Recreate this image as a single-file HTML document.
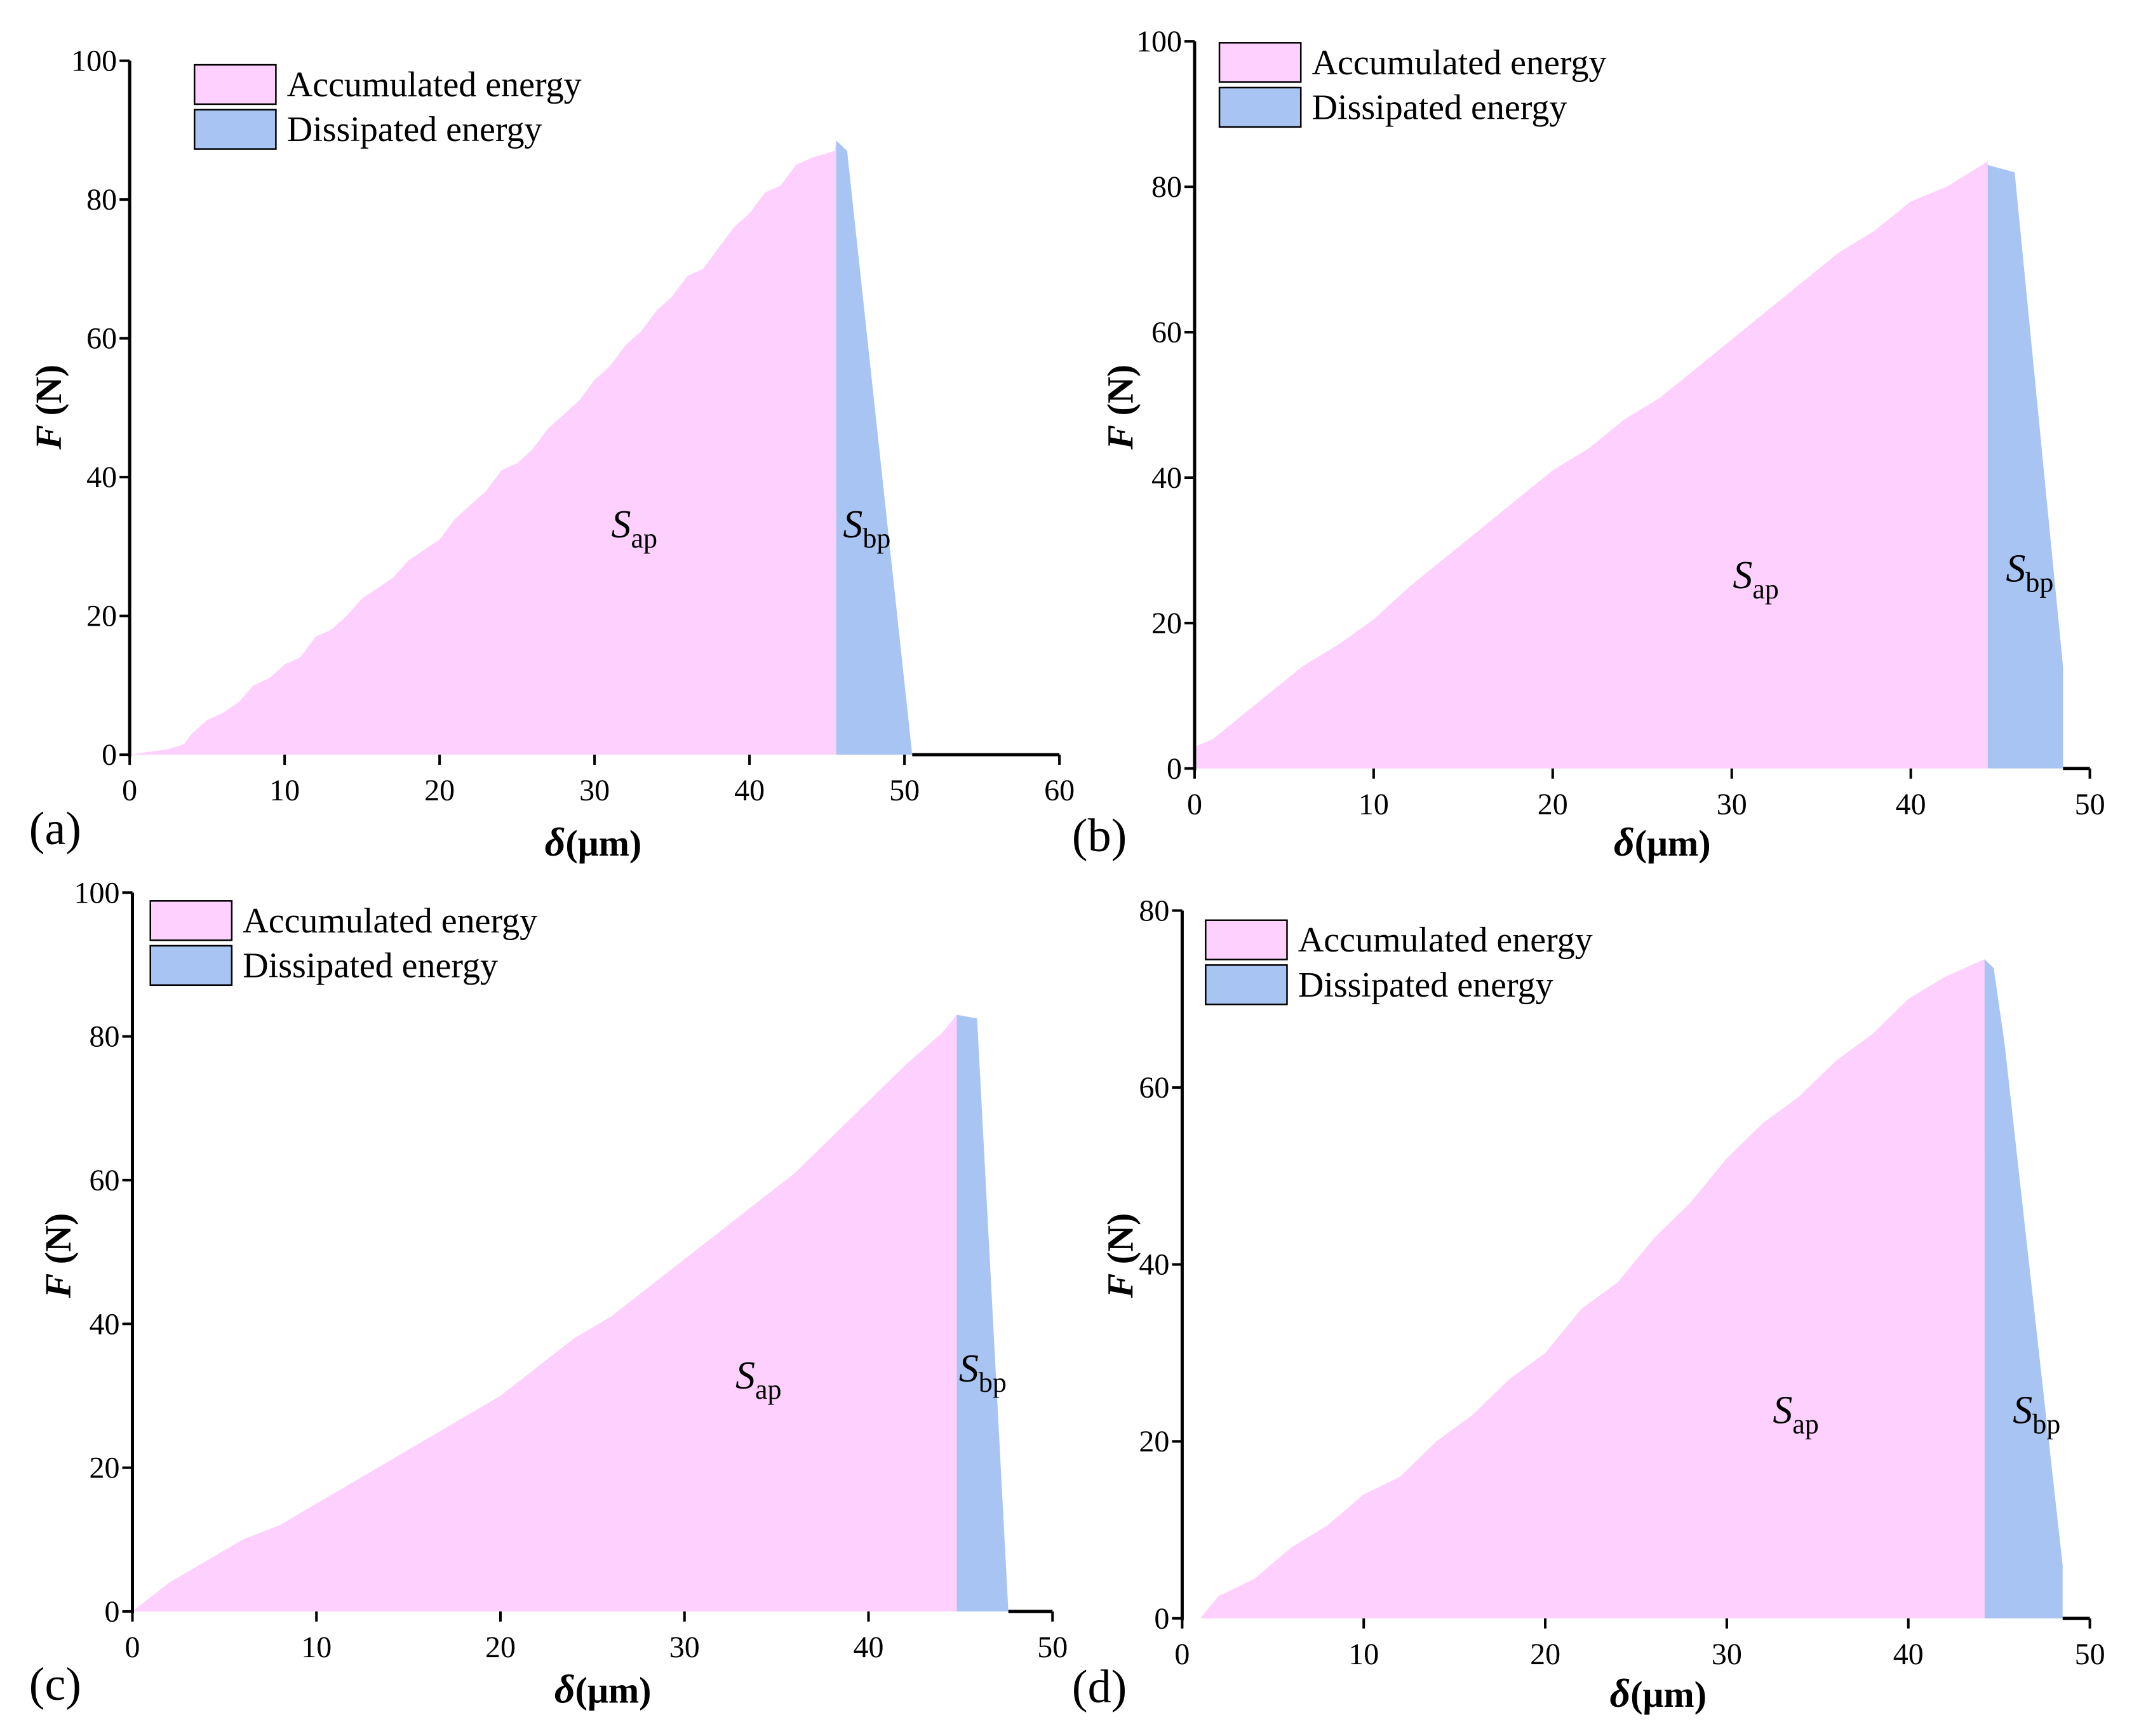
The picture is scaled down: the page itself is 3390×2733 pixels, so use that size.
<!DOCTYPE html>
<html><head><meta charset="utf-8"><style>
html,body{margin:0;padding:0;background:#fff}
svg{display:block}
text{font-family:"Liberation Serif",serif;fill:#000}
</style></head><body>
<svg id="fig" width="3390" height="2733" viewBox="0 0 3390 2733" xmlns="http://www.w3.org/2000/svg"></svg>
<script>
// Panel data (x in µm, F in N)
const aPinkX=[0,2.5,3.5,4,5,6,7,8,9,10,11,12,13,14,15,16,17,18,19,20,21,22,23,24,25,26,27,28,29,30,31,32,33,34,35,36,37,38,39,40,41,42,43,44,45.5];
const aPinkY=[0,0.8,1.5,3,5,6,7.5,10,11,13,14,17,18,20,22.5,24,25.5,28,29.5,31,34,36,38,41,42,44,47,49,51,54,56,59,61,64,66,69,70,73,76,78,81,82,85,86,87];
const aBlueX=[45.6,46.3,50.5];
const aBlueY=[88.5,87,0];
const bPinkX=[0,1,2,4,6,8,10,12,14,16,18,20,22,24,26,28,30,32,34,36,38,40,42,44.3];
const bPinkY=[3,4,6,10,14,17,20.5,25,29,33,37,41,44,48,51,55,59,63,67,71,74,78,80,83.5];
const bBlueX=[44.3,45.8,48.5,48.5];
const bBlueY=[83,82,14,0];
const cPinkX=[0,1,2,4,6,8,10,12,14,16,18,20,22,24,26,28,30,32,34,36,38,40,42,44,44.8];
const cPinkY=[0,2,4,7,10,12,15,18,21,24,27,30,34,38,41,45,49,53,57,61,66,71,76,80.5,83];
const cBlueX=[44.8,45.9,47.6];
const cBlueY=[83,82.5,0];
const dPinkX=[1,2,4,6,8,10,12,14,16,18,20,22,24,26,28,30,32,34,36,38,40,42,44.2];
const dPinkY=[0,2.5,4.5,8,10.5,14,16,20,23,27,30,35,38,43,47,52,56,59,63,66,70,72.5,74.5];
const dBlueX=[44.2,44.7,45.3,48.5,48.5];
const dBlueY=[74.5,73.5,65,6,0];
const aXTicks=[0,10,20,30,40,50,60], aYTicks=[0,20,40,60,80,100];
const bXTicks=[0,10,20,30,40,50], bYTicks=[0,20,40,60,80,100];
const cXTicks=[0,10,20,30,40,50], cYTicks=[0,20,40,60,80,100];
const dXTicks=[0,10,20,30,40,50], dYTicks=[0,20,40,60,80];

const S=2.172;
const NS="http://www.w3.org/2000/svg";
const svg=document.getElementById('fig');
function mk(t,a,p){const e=document.createElementNS(NS,t);for(const k in a)e.setAttribute(k,a[k]);(p||svg).appendChild(e);return e;}

const panels=[
 {id:'a',px:aPinkX,py:aPinkY,bx:aBlueX,by:aBlueY,xt:aXTicks,yt:aYTicks,x0:94,x1:768,y0:547,y1:44,
  leg:[141,47],sap:[445,383],sbp:[613,383],lab:[40,600],dl:[430,611],fl:[35,295]},
 {id:'b',px:bPinkX,py:bPinkY,bx:bBlueX,by:bBlueY,xt:bXTicks,yt:bYTicks,x0:866,x1:1515,y0:557,y1:30,
  leg:[884,31],sap:[1258,420],sbp:[1456,415],lab:[797,605],dl:[1205,611],fl:[812,295]},
 {id:'c',px:cPinkX,py:cPinkY,bx:cBlueX,by:cBlueY,xt:cXTicks,yt:cYTicks,x0:96,x1:763,y0:1168,y1:647,
  leg:[109,653],sap:[535,1000],sbp:[697,995],lab:[40,1220],dl:[437,1225],fl:[42,910]},
 {id:'d',px:dPinkX,py:dPinkY,bx:dBlueX,by:dBlueY,xt:dXTicks,yt:dYTicks,x0:857,x1:1515,y0:1173,y1:660,
  leg:[874,667],sap:[1287,1025],sbp:[1461,1025],lab:[797,1222],dl:[1202,1228],fl:[812,910]}
];

panels.forEach(p=>{
  const g=mk('g',{});
  
  
  const X0=p.x0*S,X1=p.x1*S,Y0=p.y0*S,Y1=p.y1*S;
  const xmax=p.xt[p.xt.length-1], ymax=p.yt[p.yt.length-1];
  const sx=v=>X0+(X1-X0)*v/xmax, sy=v=>Y0-(Y0-Y1)*v/ymax;
  let d='M'+sx(p.px[0])+','+sy(0);
  for(let i=0;i<p.px.length;i++){d+=' L'+sx(p.px[i])+','+sy(p.py[i]);}
  d+=' L'+sx(p.bx[0])+','+sy(p.by[0])+' L'+sx(p.bx[0])+','+sy(0)+' Z';
  const pa=mk('path',{d:d,fill:'#fdd0fd'},g);
  
  
  let d2='M'+sx(p.bx[0])+','+sy(0);
  for(let i=0;i<p.bx.length;i++){d2+=' L'+sx(p.bx[i])+','+sy(p.by[i]);}
  d2+=' L'+sx(p.bx[p.bx.length-1])+','+sy(0)+' Z';
  const ba=mk('path',{d:d2,fill:'#a8c4f2'},g);
  
  
  const ya=mk('line',{x1:X0,y1:Y0+3,x2:X0,y2:Y1,stroke:'#000','stroke-width':5},g);
  
  
  const xa=mk('line',{x1:sx(p.bx[p.bx.length-1]),y1:Y0,x2:X1,y2:Y0,stroke:'#000','stroke-width':5},g);
  
  
  p.xt.forEach(v=>{
    mk('line',{x1:sx(v),y1:Y0,x2:sx(v),y2:Y0+16,stroke:'#000','stroke-width':4},g);
    const t=mk('text',{x:sx(v),y:Y0+72,'font-size':48,'text-anchor':'middle'},g);
    t.textContent=v;
    
    
  });
  p.yt.forEach(v=>{
    mk('line',{x1:X0-16,y1:sy(v),x2:X0,y2:sy(v),stroke:'#000','stroke-width':4},g);
    const t=mk('text',{x:X0-20,y:sy(v)+16,'font-size':48,'text-anchor':'end'},g);
    t.textContent=v;
    
    
  });
  const lx=p.leg[0]*S, ly=p.leg[1]*S, bw=59*S, bh=28.5*S;
  mk('rect',{x:lx,y:ly,width:bw,height:bh,fill:'#fdd0fd',stroke:'#000','stroke-width':2.5},g);
  mk('rect',{x:lx,y:ly+bh+4*S,width:bw,height:bh,fill:'#a8c4f2',stroke:'#000','stroke-width':2.5},g);
  const l1=mk('text',{x:lx+bw+8*S,y:ly+bh*0.8,'font-size':56},g);l1.textContent='Accumulated energy';
  
  
  const l2=mk('text',{x:lx+bw+8*S,y:ly+bh+4*S+bh*0.8,'font-size':56},g);l2.textContent='Dissipated energy';
  
  
  [[p.sap,'ap'],[p.sbp,'bp']].forEach(([pos,sub])=>{
    const t=mk('text',{x:pos[0]*S-4,y:pos[1]*S+14,'font-size':62},g);
    
    
    const a=mk('tspan',{'font-style':'italic'},t);a.textContent='S';
    const b=mk('tspan',{'font-size':44,dy:16},t);b.textContent=sub;
  });
  const pl=mk('text',{x:p.lab[0]*S,y:p.lab[1]*S+26,'font-size':74,'text-anchor':'middle'},g);
  pl.textContent='('+p.id+')';
  
  
  const xl=mk('text',{x:p.dl[0]*S,y:p.dl[1]*S+20,'font-size':58,'text-anchor':'middle','font-weight':'bold'},g);
  
  
  const x1=mk('tspan',{'font-style':'italic','font-size':64},xl);x1.textContent='δ';
  const x2=mk('tspan',{},xl);x2.textContent='(μm)';
  const cx=p.fl[0]*S, cy=p.fl[1]*S;
  const yl=mk('text',{x:cx,y:cy,'font-size':58,'text-anchor':'middle','font-weight':'bold',transform:'rotate(-90 '+cx+' '+cy+')',dy:20},g);
  
  
  const y1=mk('tspan',{'font-style':'italic'},yl);y1.textContent='F';
  const y2=mk('tspan',{},yl);y2.textContent=' (N)';
});
</script>
</body></html>
